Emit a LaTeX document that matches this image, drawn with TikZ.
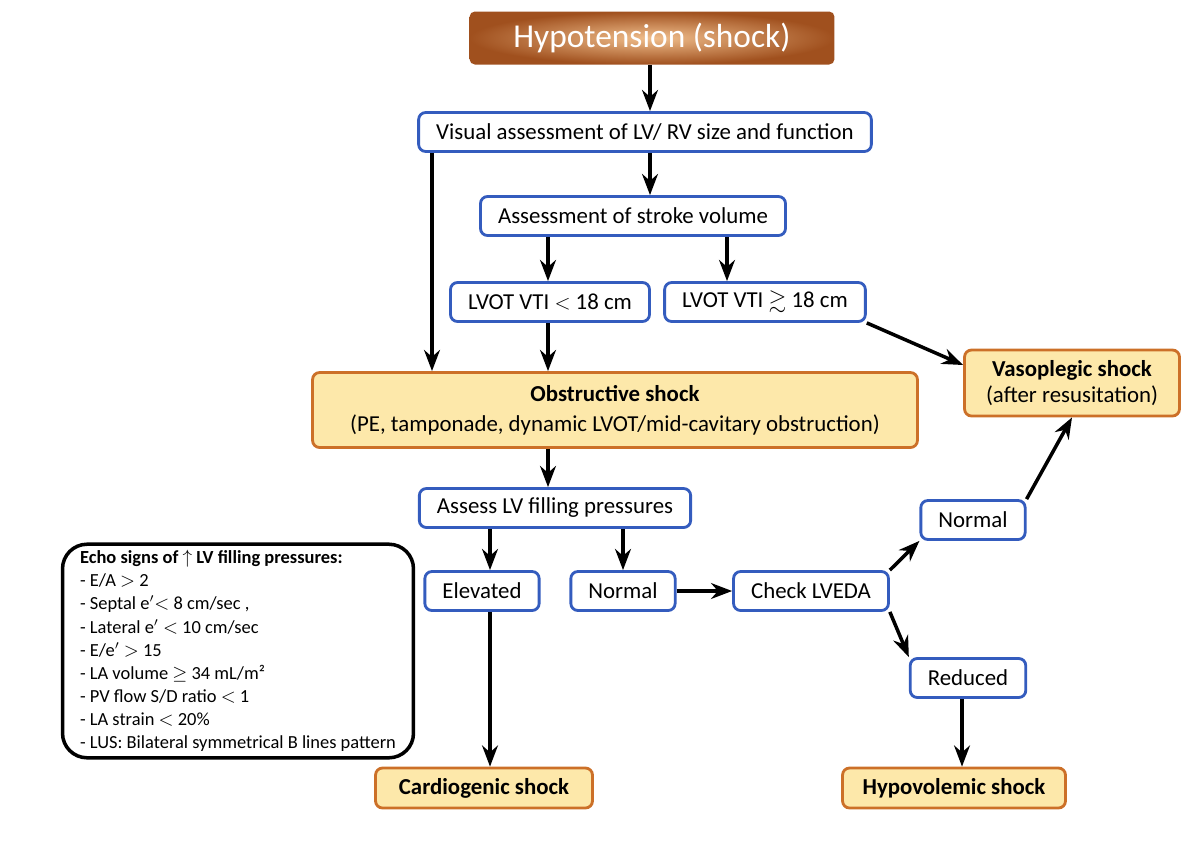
\documentclass[tikz,border=0pt]{standalone}
\usepackage{fontspec}
\setmainfont{Carlito}
\usepackage{amssymb}
\usetikzlibrary{arrows.meta,positioning,calc,shadings}
\definecolor{boxblue}{RGB}{52,92,190}
\definecolor{boxorange}{RGB}{204,112,40}
\definecolor{boxfill}{RGB}{253,232,170}
\definecolor{brownA}{RGB}{160,80,30}
\definecolor{brownB}{RGB}{240,190,140}
\tikzset{>=Stealth,
  stage/.style={draw=boxblue,line width=1.6pt,rounded corners=4pt,fill=white,
    minimum height=0.78cm,inner xsep=10pt,font=\fontsize{13}{15}\selectfont},
  result/.style={draw=boxorange,line width=1.6pt,rounded corners=4pt,fill=boxfill,
    minimum height=0.8cm,inner xsep=10pt,align=center,font=\fontsize{13}{15}\selectfont},
  arr/.style={->,line width=2pt}}
\begin{document}
\begin{tikzpicture}[x=0.02cm,y=-0.02cm]
\useasboundingbox (0,0) rectangle (1200,853);
% top
\node[rounded corners=3pt,inner color=brownB,outer color=brownA,minimum width=7.3cm,
  minimum height=1.06cm,text=white,font=\fontsize{19}{22}\selectfont] (hyp) at (652,38) {Hypotension (shock)};
\node[stage] (vis) at (645,132) {Visual assessment of LV/ RV size and function};
\node[stage] (sv) at (633,216) {Assessment of stroke volume};
\node[stage] (lo) at (550,302) {LVOT VTI $<$ 18 cm};
\node[stage] (hi) at (765,302) {LVOT VTI $\gtrsim$ 18 cm};
\node[result,minimum width=12.1cm,minimum height=1.5cm] (obs) at (615,410)
  {\textbf{Obstructive shock}\\[2pt](PE, tamponade, dynamic LVOT/mid-cavitary obstruction)};
\node[result,minimum width=4.3cm,minimum height=1.32cm] (vaso) at (1072,383)
  {\textbf{Vasoplegic shock}\\(after resusitation)};
% filling pressures
\node[stage] (flp) at (555,508) {Assess LV filling pressures};
\node[stage] (elev) at (482,591) {Elevated};
\node[stage] (norm) at (623,591) {Normal};
\node[stage] (chk) at (811,591) {Check LVEDA};
\node[stage] (norm2) at (973,520) {Normal};
\node[stage] (red) at (968,678) {Reduced};
\node[result,minimum width=4.34cm] (cardio) at (484,788) {\textbf{Cardiogenic shock}};
\node[result,minimum width=4.46cm] (hypo) at (954,788) {\textbf{Hypovolemic shock}};
% echo signs
\node[draw,line width=2pt,rounded corners=14pt,minimum width=6.54cm,minimum height=4.26cm,
  align=left,font=\fontsize{10.5}{13.2}\selectfont,inner xsep=10pt] (echo) at (238,651)
  {\textbf{Echo signs of $\uparrow$ LV filling pressures:}\\
  - E/A $>$ 2\\
  - Septal e$'$$<$ 8 cm/sec ,\\
  - Lateral e$'$ $<$ 10 cm/sec\\
  - E/e$'$ $>$ 15\\
  - LA volume $\geq$ 34 mL/m²\\
  - PV flow S/D ratio $<$ 1\\
  - LA strain $<$ 20\%\\
  - LUS: Bilateral symmetrical B lines pattern};
% arrows
\coordinate (xa) at (432,0);
\coordinate (xb) at (548,0);
\coordinate (xc) at (727,0);
\coordinate (xd) at (490,0);
\coordinate (xe) at (962,0);
\coordinate (xf) at (650,0);
\coordinate (vy) at (0,365);
\draw[arr] (hyp.south -| xf) -- (vis.north -| xf);
\draw[arr] (vis.south -| xf) -- (sv.north -| xf);
\draw[arr] (vis.south -| xa) -- (obs.north -| xa);
\draw[arr] (sv.south -| xb) -- (lo.north -| xb);
\draw[arr] (sv.south -| xc) -- (hi.north -| xc);
\draw[arr] (lo.south -| xb) -- (obs.north -| xb);
\draw[arr] (hi.south east) -- (vaso.west |- vy);
\draw[arr] (obs.south -| xb) -- (flp.north -| xb);
\draw[arr] (flp.south -| xd) -- (elev.north -| xd);
\draw[arr] (flp.south -| norm) -- (norm.north);
\draw[arr] (norm.east) -- (chk.west);
\draw[arr] (chk.north east) -- (norm2.south west);
\draw[arr] (norm2.north east) -- (vaso.south);
\draw[arr] (chk.south east) -- (red.north west);
\draw[arr] (elev.south -| xd) -- (cardio.north -| xd);
\draw[arr] (red.south -| xe) -- (hypo.north -| xe);
\end{tikzpicture}
\end{document}
